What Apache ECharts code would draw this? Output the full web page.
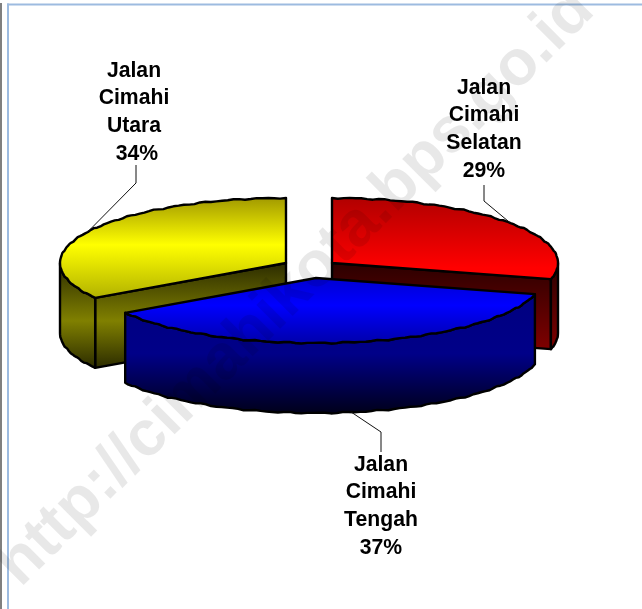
<!DOCTYPE html>
<html>
<head>
<meta charset="utf-8">
<style>html,body{margin:0;padding:0;background:#fff}#c{width:642px;height:609px}</style>
<script src="https://cdn.jsdelivr.net/npm/echarts@6/dist/echarts.min.js"></script>
</head>
<body>
<div id="c"></div>
<script>
const categories = ['Jalan Cimahi Selatan', 'Jalan Cimahi Tengah', 'Jalan Cimahi Utara'];
const values = [29, 37, 34];
const percentLabels = ['29%', '37%', '34%'];
const watermark = 'http://cimahikota.bps.go.id';

const RX = 226, RY = 65, DEPTH = 70, STEP = 1.5;
const LG = (stops) => new echarts.graphic.LinearGradient(0, 0, 0, 1,
  stops.map(s => ({ offset: s[0], color: s[1] })));
const looks = [
  { c: [332, 263], z: 10, lead: [[484, 201], [484, 185]], label: [484, 129], labelPad: '',
    top: [[0, '#b00000'], [0.85, '#ff0000'], [1, '#ff0000']],
    side: [[0, '#2a0000'], [1, '#800000']], inner: true, vis: [90, 360] },
  { c: [316, 278], z: 30, lead: [[381, 432], [381, 452]], label: [381, 506], labelPad: '',
    top: [[0, '#0000d0'], [0.42, '#0000ff'], [1, '#0000a8']],
    side: [[0, '#000080'], [0.5, '#000088'], [1, '#000018']], inner: false, vis: [0, 360] },
  { c: [286, 263], z: 20, lead: [[136, 183], [136, 165]], label: [134, 112], labelPad: ' ',
    top: [[0, '#a09800'], [0.47, '#ffff00'], [1, '#b0b000']],
    side: [[0, '#2a2a00'], [0.55, '#808000'], [1, '#2a2a00']], inner: true, vis: [0, 270] }
];
const total = values.reduce((a, b) => a + b, 0);

function renderSlice(params, api) {
  const i = params.dataIndex, L = looks[i];
  let before = 0;
  for (let k = 0; k < i; k++) before += values[k];
  const a0 = before / total * 360, a1 = (before + api.value(0)) / total * 360;
  const pt = (deg, dy, rough) => {
    const r = deg * Math.PI / 180;
    const wob = rough ? 0.45 * Math.sin(deg * 0.83) + 0.3 * Math.sin(deg * 1.37) : 0;
    return [L.c[0] + RX * Math.sin(r), L.c[1] - RY * Math.cos(r) + (dy || 0) + wob];
  };
  const arc = (from, to, dy) => {
    const out = [], n = Math.max(1, Math.round((to - from) / STEP));
    for (let k = 0; k <= n; k++) out.push(pt(from + (to - from) * k / n, dy, k > 0 && k < n));
    return out;
  };
  const face = (points, fill, z) => ({
    type: 'polygon', shape: { points }, z2: z, silent: true,
    style: { fill: LG(fill), stroke: '#000', lineWidth: 2.4, lineJoin: 'round' }
  });
  const children = [];
  if (L.inner) {
    const edge = i === 0 ? a1 : a0;
    const e = pt(edge);
    children.push(face([L.c, e, [e[0], e[1] + DEPTH], [L.c[0], L.c[1] + DEPTH]], L.side, L.z));
  }
  const s0 = Math.max(a0, L.vis[0]), s1 = Math.min(a1, L.vis[1]);
  if (s1 > s0) {
    children.push(face(arc(s0, s1, 0).concat(arc(s0, s1, DEPTH).reverse()), L.side, L.z + 1));
  }
  children.push(face([L.c].concat(arc(a0, a1, 0)), L.top, L.z + 2));

  const mid = (a0 + a1) / 2;
  const anchor = pt(mid, (mid > 90 && mid < 270) ? DEPTH : 0);
  children.push({
    type: 'polyline', shape: { points: [anchor].concat(L.lead) }, z2: L.z + 3, silent: true,
    style: { stroke: '#111', lineWidth: 1, fill: null }
  });
  const txt = api.value(1).split(' ').join('\n') + '\n' + L.labelPad + percentLabels[i];
  children.push({
    type: 'text', x: L.label[0], y: L.label[1], scaleX: 1.06, scaleY: 1.14, z2: 50, silent: true,
    style: { text: txt, align: 'center', verticalAlign: 'middle', textAlign: 'center', textVerticalAlign: 'middle',
      font: 'bold 20px "Liberation Sans", Arial, sans-serif', lineHeight: 24.2, fill: '#000' }
  });
  return { type: 'group', children };
}

const chart = echarts.init(document.getElementById('c'), null, { renderer: 'canvas' });
chart.setOption({
  animation: false,
  backgroundColor: '#ffffff',
  graphic: [
    { type: 'rect', shape: { x: 0, y: 3, width: 2, height: 606 }, style: { fill: '#808080' }, z: 1, silent: true },
    { type: 'rect', shape: { x: 7, y: 3.5, width: 635, height: 2 }, style: { fill: '#9dbbe0' }, z: 1, silent: true },
    { type: 'rect', shape: { x: 7, y: 3.5, width: 2, height: 606 }, style: { fill: '#9dbbe0' }, z: 1, silent: true },
    { type: 'text', x: 296, y: 288, rotation: Math.PI / 4, z: 100, silent: true,
      style: { text: watermark, textAlign: 'center', textVerticalAlign: 'middle', align: 'center', verticalAlign: 'middle',
        font: 'bold 64px "Liberation Sans", Arial, sans-serif', fill: 'rgba(0,0,0,0.09)' } }
  ],
  series: [{
    type: 'custom',
    coordinateSystem: 'none',
    silent: true,
    clip: false,
    renderItem: renderSlice,
    encode: {},
    data: values.map((v, i) => [v, categories[i]])
  }]
});
</script>
</body>
</html>
